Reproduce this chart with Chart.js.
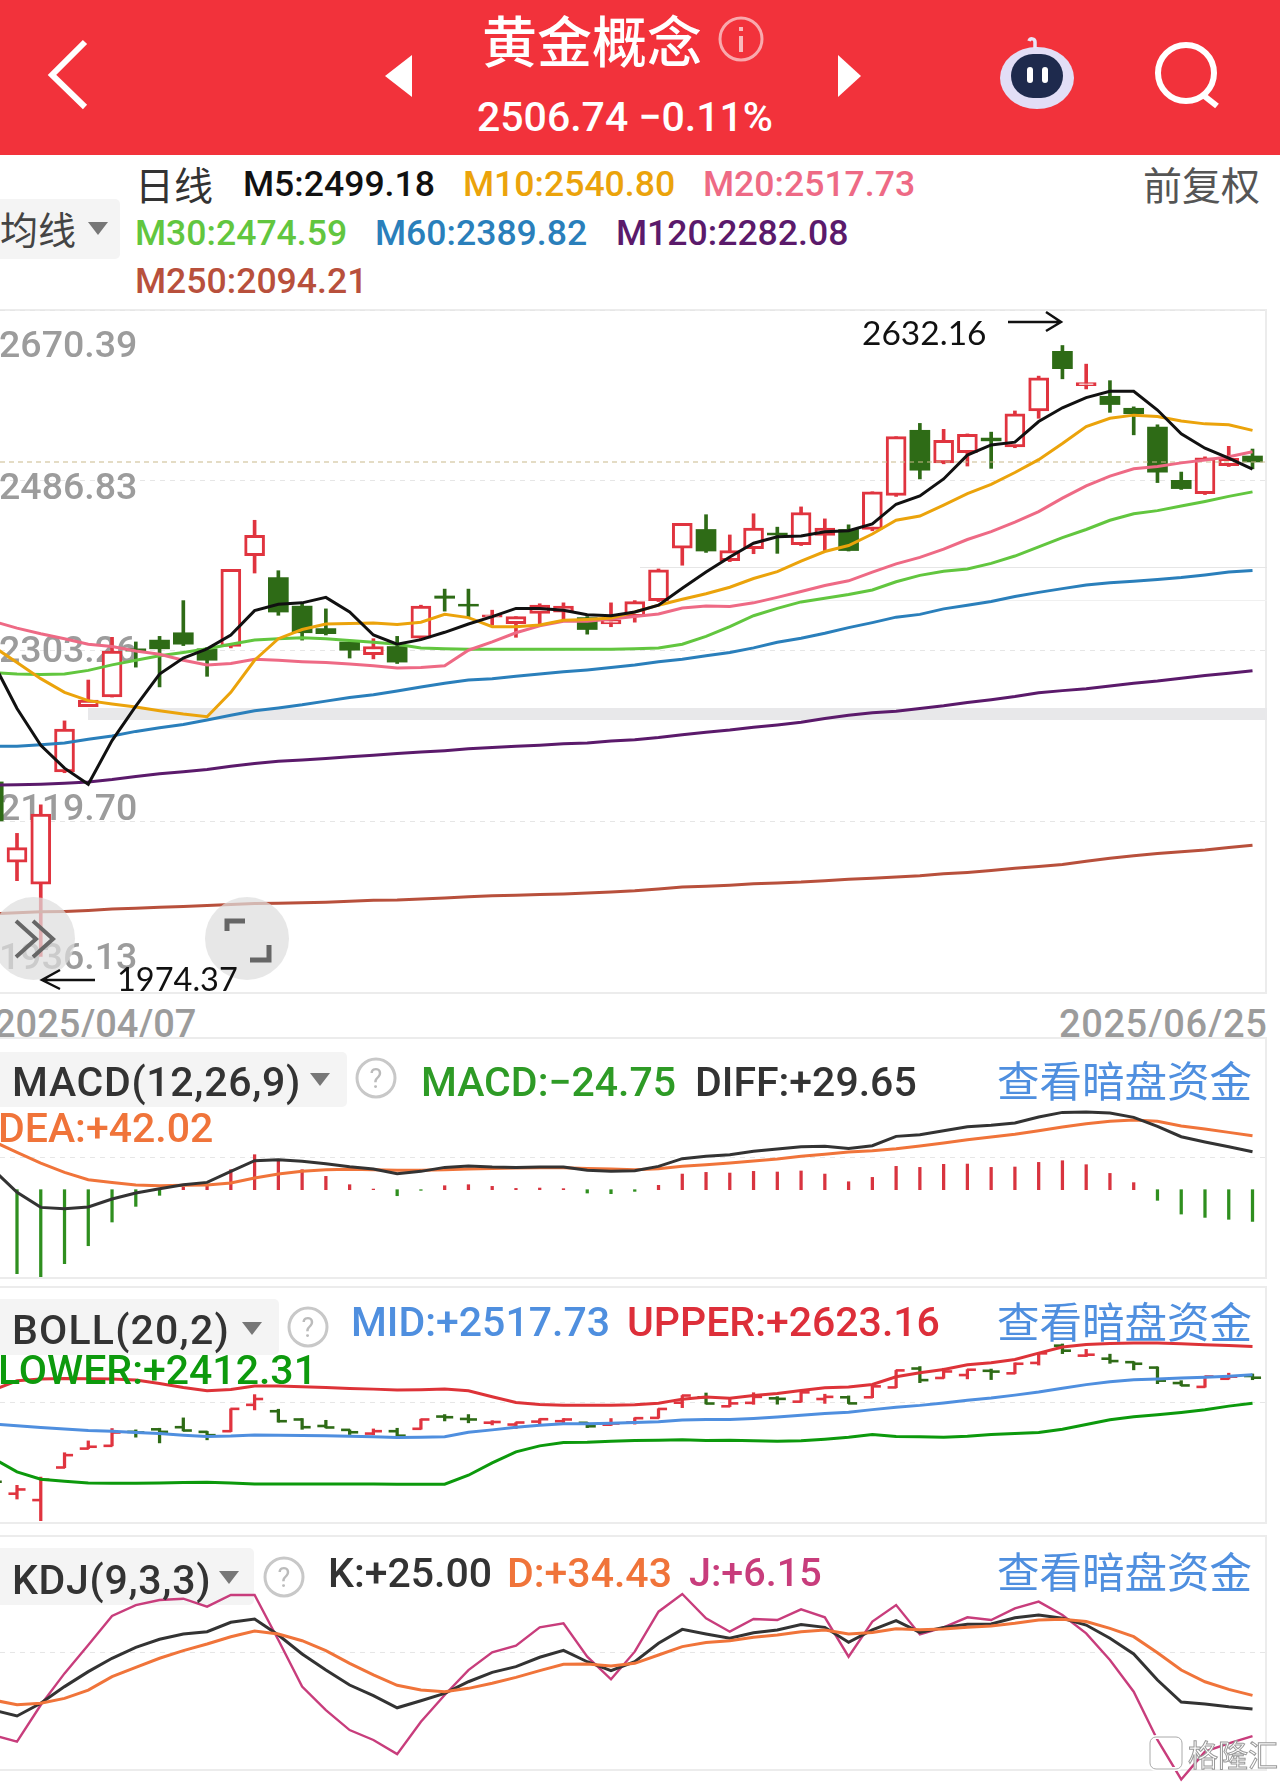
<!DOCTYPE html>
<html>
<head>
<meta charset="utf-8">
<script src="https://cdn.jsdelivr.net/npm/chart.js@4"></script>
<style>
html,body{margin:0;padding:0;background:#fff}
body{width:1280px;height:1782px;position:relative;overflow:hidden;font-family:Roboto,"Noto Sans CJK SC",sans-serif}
.t{position:absolute;white-space:nowrap;line-height:1;transform:translateY(-50%)}
.n{font-weight:500}
.h{font-weight:500;font-size:41px}
.cn{font-family:"Noto Sans CJK SC",sans-serif}
.box{position:absolute;left:0;background:#f4f4f4;border-radius:0 5px 5px 0}
.panel{position:absolute;left:-2px;width:1265px;border:2px solid #ececec;box-sizing:content-box}
canvas{position:absolute;left:0}
svg{position:absolute;overflow:visible}
</style>
</head>
<body>
<div style="position:absolute;left:0;top:0;width:1280px;height:155px;background:#f2323b"></div>
<svg style="left:0;top:0" width="1280" height="155">
  <polyline points="85,42 52,75 85,107" fill="none" stroke="#fff" stroke-width="6"/>
  <polygon points="412,55 385,76 412,97" fill="#fff"/>
  <polygon points="838,55 861,76 838,97" fill="#fff"/>
  <circle cx="741" cy="39" r="21" fill="none" stroke="#f9a9ad" stroke-width="3"/>
  <rect x="739" y="36" width="4" height="16" fill="#f9b9bc"/><rect x="739" y="27" width="4" height="4" fill="#f9b9bc"/>
  <ellipse cx="1037" cy="78" rx="37" ry="31" fill="#e2def6"/>
  <rect x="1011" y="54" width="52" height="44" rx="22" fill="#1e2a4d"/>
  <rect x="1027" y="67" width="6" height="16" rx="3" fill="#fff"/><rect x="1042" y="67" width="6" height="16" rx="3" fill="#fff"/>
  <path d="M1035,48 V42 C1035,38 1030,38 1029,41" fill="none" stroke="#e9e6f8" stroke-width="3.5"/>
  <circle cx="1186" cy="73" r="28" fill="none" stroke="#fff" stroke-width="6"/>
  <line x1="1203" y1="95" x2="1217" y2="106" stroke="#fff" stroke-width="6"/>
</svg>
<div class="t cn" style="left:482px;top:38px;font-size:55px;color:#fff;font-weight:500">黄金概念</div>
<div class="t n" style="left:477px;top:117px;font-size:41px;color:#fff">2506.74 −0.11%</div>

<div class="t cn" style="left:135px;top:183px;font-size:39px;color:#333">日线</div>
<div class="t n" style="left:243px;top:185px;font-size:35.6px;color:#111">M5:2499.18</div>
<div class="t n" style="left:463px;top:185px;font-size:35.6px;color:#eba30b">M10:2540.80</div>
<div class="t n" style="left:703px;top:185px;font-size:35.6px;color:#ee6a85">M20:2517.73</div>
<div class="t cn" style="left:1143px;top:183px;font-size:39px;color:#555">前复权</div>
<div class="box" style="top:199px;width:120px;height:60px"></div>
<div class="t cn" style="left:0;top:228px;font-size:38px;color:#444">均线</div>
<svg style="left:88px;top:222px" width="20" height="14"><polygon points="0,0 20,0 10,13" fill="#777"/></svg>
<div class="t n" style="left:135px;top:234px;font-size:35.6px;color:#62c63f">M30:2474.59</div>
<div class="t n" style="left:375px;top:234px;font-size:35.6px;color:#2a7fbb">M60:2389.82</div>
<div class="t n" style="left:616px;top:234px;font-size:35.6px;color:#5b1a6b">M120:2282.08</div>
<div class="t n" style="left:135px;top:282px;font-size:35.6px;color:#b8503c">M250:2094.21</div>

<!-- main panel -->
<div class="panel" style="top:309px;height:681px"></div>
<div style="position:absolute;left:88px;top:708px;width:1179px;height:12px;background:#e8e8ea"></div>
<div style="position:absolute;left:640px;top:567px;width:627px;height:1px;background:#e6e6e6"></div>
<div style="position:absolute;left:640px;top:600px;width:627px;height:1px;background:#f0f0f0"></div>
<canvas id="mainChart" width="1267" height="682" style="top:310px"></canvas>
<div class="t" style="left:862px;top:333px;font-size:33.5px;color:#111;font-family:Lato">2632.16</div>
<svg style="left:1008px;top:310px" width="60" height="24"><path d="M0,12 H52 M38,2 L53,12 L38,21" fill="none" stroke="#111" stroke-width="2.5"/></svg>
<div style="position:absolute;left:0;top:897px;width:1280px;height:94px;overflow:hidden">
  <div style="position:absolute;left:-8px;top:0;width:83px;height:83px;border-radius:50%;background:rgba(222,222,222,.72)"></div>
  <div style="position:absolute;left:205px;top:0;width:84px;height:83px;border-radius:50%;background:rgba(222,222,222,.72)"></div>
  <svg style="left:0;top:0" width="300" height="90">
    <path d="M16,24 L36,42 L16,60 M33,24 L53,42 L33,60" fill="none" stroke="#666" stroke-width="4"/>
    <path d="M227,34 V24 H245 M269,48 V63 H250" fill="none" stroke="#666" stroke-width="5"/>
    <path d="M95,83 H42 M60,73 L42,83 L60,92" fill="none" stroke="#111" stroke-width="2.5"/>
  </svg>
  <div class="t" style="left:117px;top:82px;font-size:32.5px;color:#111;font-family:Lato">1974.37</div>
</div>
<div class="t n" style="left:-6px;top:1024px;font-size:38px;color:#9c9c9c">2025/04/07</div>
<div class="t n" style="left:1059px;top:1024px;font-size:38px;letter-spacing:.6px;color:#9c9c9c">2025/06/25</div>

<!-- MACD panel -->
<div class="panel" style="top:1037px;height:238px"></div>
<canvas id="macdChart" width="1267" height="240" style="top:1037px"></canvas>
<div class="box" style="top:1052px;width:347px;height:55px"></div>
<div class="t h" style="left:12px;top:1082px;letter-spacing:.7px;color:#333">MACD(12,26,9)</div>
<svg style="left:310px;top:1073px" width="20" height="14"><polygon points="0,0 20,0 10,13" fill="#777"/></svg>
<svg style="left:355px;top:1057px" width="42" height="42"><circle cx="21" cy="21" r="19" fill="none" stroke="#c8c8c8" stroke-width="3"/><text x="21" y="31" font-size="27" text-anchor="middle" fill="#bbb" font-family="Roboto">?</text></svg>
<div class="t h" style="left:421px;top:1082px;color:#2e9b26">MACD:−24.75</div>
<div class="t h" style="left:695px;top:1082px;color:#333">DIFF:+29.65</div>
<div class="t cn" style="left:997px;top:1079px;font-size:42.5px;color:#4f8fdf">查看暗盘资金</div>
<div class="t h" style="left:-2px;top:1128px;color:#f0743a">DEA:+42.02</div>

<!-- BOLL panel -->
<div class="panel" style="top:1286px;height:234px"></div>
<canvas id="bollChart" width="1267" height="235" style="top:1286px"></canvas>
<div class="box" style="top:1299px;width:279px;height:56px"></div>
<div class="t h" style="left:12px;top:1330px;letter-spacing:1.2px;color:#333">BOLL(20,2)</div>
<svg style="left:242px;top:1322px" width="20" height="14"><polygon points="0,0 20,0 10,13" fill="#777"/></svg>
<svg style="left:287px;top:1306px" width="42" height="42"><circle cx="21" cy="21" r="19" fill="none" stroke="#c8c8c8" stroke-width="3"/><text x="21" y="31" font-size="27" text-anchor="middle" fill="#bbb" font-family="Roboto">?</text></svg>
<div class="t h" style="left:351px;top:1322px;color:#4f8fdf">MID:+2517.73</div>
<div class="t h" style="left:627px;top:1322px;color:#dd2f3a">UPPER:+2623.16</div>
<div class="t cn" style="left:997px;top:1320px;font-size:42.5px;color:#4f8fdf">查看暗盘资金</div>
<div class="t h" style="left:-2px;top:1370px;color:#0d9a0d">LOWER:+2412.31</div>

<!-- KDJ panel -->
<div class="panel" style="top:1535px;height:232px"></div>
<div class="box" style="top:1548px;width:254px;height:57px"></div>
<canvas id="kdjChart" width="1267" height="247" style="top:1535px"></canvas>
<div class="t h" style="left:12px;top:1580px;letter-spacing:.7px;color:#333">KDJ(9,3,3)</div>
<svg style="left:219px;top:1571px" width="20" height="14"><polygon points="0,0 20,0 10,13" fill="#777"/></svg>
<svg style="left:263px;top:1556px" width="42" height="42"><circle cx="21" cy="21" r="19" fill="none" stroke="#c8c8c8" stroke-width="3"/><text x="21" y="31" font-size="27" text-anchor="middle" fill="#bbb" font-family="Roboto">?</text></svg>
<div class="t h" style="left:328px;top:1573px;color:#333">K:+25.00</div>
<div class="t h" style="left:507px;top:1573px;color:#f0743a">D:+34.43</div>
<div class="t h" style="left:689px;top:1573px;font-size:39.5px;color:#c83d7c">J:+6.15</div>
<div class="t cn" style="left:997px;top:1570px;font-size:42.5px;color:#4f8fdf">查看暗盘资金</div>
<div class="t cn" style="left:1188px;top:1753px;font-size:30px;color:#fff;-webkit-text-stroke:1px #999">格隆汇</div>
<svg style="left:1148px;top:1735px" width="36" height="36"><rect x="2" y="2" width="32" height="32" rx="6" fill="none" stroke="#fff" stroke-width="4"/><rect x="2" y="2" width="32" height="32" rx="6" fill="none" stroke="#aaa" stroke-width="1"/></svg>

<script>
// candles, one per trading day
const open = [2162.3,2075.8,2052.1,2173.2,2243.4,2253.7,2305.6,2315,2322.9,2305.6,2308.1,2406,2382.3,2351.6,2327.4,2313,2299.2,2308.1,2317,2362.5,2353.6,2339.7,2332.8,2343.7,2345.2,2339.2,2332.3,2340.3,2357.5,2413.9,2434.1,2400.5,2413.4,2430.2,2417.8,2427.7,2434.1,2434.1,2470.7,2540.9,2505.8,2516.7,2532.5,2523.1,2561.7,2625.9,2588.9,2577.5,2564.6,2544.4,2487,2472.7,2502.9,2513.2];
const close = [2120.3,2091.6,2127.7,2219.1,2250.3,2303.2,2303.2,2305.6,2310.6,2293.3,2391.1,2427.7,2345.2,2322.9,2321.9,2304.1,2308.1,2291.3,2351.6,2360,2351.6,2342.2,2340.3,2352.6,2351.6,2326.4,2336.8,2356.5,2390.7,2440.6,2410.9,2411.4,2435.6,2428.2,2452.4,2435.6,2411.4,2474.7,2534,2497.9,2530,2536.5,2529.5,2558.7,2597.3,2607.2,2592.3,2568.6,2558.7,2495.9,2478.1,2511.3,2510.8,2506.74];
const high = [2167.3,2106.9,2137.6,2228,2272,2318,2313,2319,2357.5,2307.1,2391.1,2444,2389.7,2355.1,2348.6,2313,2316.5,2319,2352.6,2369.9,2369.9,2347.2,2340.3,2354.1,2355.1,2340.3,2355.1,2357.5,2391.6,2440.6,2450,2428.2,2451,2436.6,2458.4,2445.5,2439.1,2474.7,2534,2548.3,2541.9,2537,2538.9,2561.7,2599.2,2632.16,2612.1,2594.3,2566.1,2546.8,2495.9,2512.3,2523.6,2520.7];
const low = [2107.9,2056,1974.37,2172.2,2243.4,2253.7,2285.9,2264.6,2309.1,2276,2306.6,2387.2,2341.7,2315,2320.5,2295.7,2294.8,2289.8,2315.5,2346.2,2339.2,2331.3,2318,2331.8,2336.8,2321.4,2329.4,2334.3,2356.5,2395.6,2409.4,2399.5,2408,2408.4,2416.8,2411.4,2410.9,2432.7,2469.7,2488.5,2504.8,2502.4,2499.9,2522.1,2553.8,2596.3,2585.4,2560.2,2536,2484.6,2477.2,2471.7,2501.9,2499.4];

const m5 = [2290.8,2241.4,2201.8,2177.1,2159.8,2206.8,2243.8,2278.4,2295.7,2305.6,2320.5,2346.7,2353.6,2355.1,2361,2345.2,2320.5,2310.6,2315.5,2323.4,2332.3,2340.3,2349.1,2349.1,2347.2,2342.2,2341.2,2345.2,2352.6,2370.9,2388.2,2404.5,2419.3,2426.2,2427.2,2431.7,2432.7,2440.1,2461.3,2470.2,2488.5,2514.2,2525.1,2528.1,2550.3,2565.1,2576,2582.9,2582.9,2562.7,2537,2521.6,2510.8,2499.18];
const m10 = [2308.1,2290.8,2273.5,2258.7,2249.8,2246.3,2242.9,2238.9,2235.4,2232.5,2258.7,2293.3,2316.5,2326.4,2332.3,2332.8,2333.3,2331.8,2334.3,2342.7,2339.2,2329.4,2329.4,2331.3,2336.3,2337.3,2338.7,2345.2,2352.6,2359,2364.9,2371.9,2381.3,2388.7,2400,2410.4,2416.8,2429.2,2444,2448.5,2460.3,2472.7,2482.6,2495.4,2509.3,2526.6,2544.9,2553.8,2557.2,2555.7,2550.8,2547.8,2546.8,2540.80];
const m20 = [2335.3,2327.9,2321.9,2316.5,2310.6,2308.1,2303.2,2299.7,2293.3,2288.3,2289.8,2294.3,2293.3,2291.8,2290.8,2289.3,2287.3,2284.9,2285.4,2287.3,2304.1,2313,2322.9,2330.3,2335.3,2335.3,2337.8,2340.3,2343.2,2349.6,2351.6,2351.1,2355.1,2361,2367.4,2373.8,2378.8,2388.2,2397.1,2404,2412.9,2423.3,2431.7,2442.1,2453.4,2467.8,2481.1,2491.5,2499.4,2501.9,2505.8,2508.8,2512.3,2517.73];
const m30 = [2279.9,2278.4,2278,2278.4,2282.4,2288.3,2293.3,2298.2,2301.7,2305.6,2310.6,2315,2316.5,2317.5,2316.5,2314.5,2312.6,2310.6,2306.6,2305.6,2305.1,2305.1,2305.1,2305.1,2305.1,2305.1,2305.1,2305.6,2306.6,2310.6,2319,2329.4,2341.2,2349.1,2356.1,2360,2364,2368.9,2377.8,2384.7,2389.2,2391.6,2397.6,2405.5,2415.4,2425.3,2434.1,2444,2451,2454.4,2459.4,2464.3,2469.7,2474.59];
const m60 = [2200.8,2200.8,2202.3,2204.3,2208.3,2211.7,2216.7,2220.6,2224.1,2229,2234,2238.9,2241.9,2245.3,2249.3,2253.2,2256.2,2260.2,2264.6,2268.6,2272,2273.5,2276,2278.4,2280.9,2282.9,2285.4,2288.3,2291.8,2294.3,2298.2,2301.7,2306.6,2312.6,2317,2322.4,2328.4,2333.8,2339.7,2342.7,2348.6,2352.6,2356.5,2362,2366.4,2370.4,2374.3,2376.8,2378.3,2380.3,2382.3,2385.2,2388.2,2389.82];
const m120 = [2158.8,2159.3,2159.8,2160.8,2162.3,2164.8,2168.2,2171.2,2173.2,2175.6,2179.1,2182.1,2184.5,2186,2187.5,2189.5,2191,2192.9,2194.4,2195.9,2197.9,2199.4,2200.8,2201.8,2203.3,2204.3,2206.3,2207.8,2210.2,2213.2,2215.7,2218.1,2221.1,2223.6,2226.5,2230.5,2234,2236.9,2238.4,2241.4,2244.3,2247.8,2250.8,2254.2,2258.2,2260.6,2262.6,2265.6,2268.6,2271,2274,2277,2279.4,2282.08];
const m250 = [2020.4,2021.4,2022.4,2022.9,2023.9,2025.4,2026.3,2027.3,2028.3,2029.3,2030.3,2031.3,2031.8,2032.3,2032.8,2033.8,2034.8,2035.2,2036.2,2037.2,2038.7,2039.7,2040.2,2041.2,2041.7,2042.7,2043.7,2045.1,2047.1,2049.1,2050.1,2051.1,2052.6,2053.6,2054.5,2056,2057.5,2058.5,2060,2061.4,2063.4,2064.9,2066.9,2069.4,2071.3,2073.3,2076.8,2080.2,2082.7,2085.2,2087.2,2089.1,2091.6,2094.21];

const macd = [-50,-65.5,-68.1,-57.7,-43.7,-25.2,-13,-4.4,2.1,3.1,15.6,27.3,23.4,15.6,10.4,3.9,0.5,-4.7,-0.5,3.1,3.9,2.6,1,1.3,0.8,-2.6,-3.1,-1.3,3.4,12.2,13.5,13,14.3,13.8,14.6,12.2,6.2,9.6,18.2,17.4,19.8,20,17.4,17.7,21.3,22.6,19.5,12.7,5.5,-8.3,-19,-21.6,-23.1,-24.75];
const diff = [15.6,-2.1,-13.8,-14.8,-13.5,-7.3,-2.6,0.8,3.9,5.7,14.3,22.6,23.4,22.1,20.3,17.9,16.1,12.5,14.3,17.4,18.5,17.7,17.4,17.7,17.7,15.1,14.3,14.8,18.2,24.2,26,27.3,29.9,31.7,33.5,33.8,32.2,34.3,41.6,42.9,46,49.1,50.2,52,56.7,60.3,60.6,59.8,56.4,49.4,41.3,37.2,33.5,29.65];
const dea = [37.7,29.1,20.8,13.5,7.8,5.7,3.6,3.1,3.4,3.6,5.2,9.1,12.2,14.3,15.6,15.9,15.6,15.1,15.1,15.6,16.1,16.6,16.9,17.2,17.2,16.6,16.1,15.6,16.4,18.2,19.5,20.8,22.4,23.9,26,27.6,29.4,30.4,32,34.1,36.4,39,41.1,43.2,46,48.9,51.5,53.3,54.3,53.3,49.7,47.3,44.7,42.02];

const upper = [2460.7,2495.4,2501.6,2504.1,2502.9,2501.6,2497.9,2485.5,2470.6,2458.2,2463.2,2475.6,2475.6,2473.1,2470.6,2466.9,2464.4,2460.7,2461.9,2464.4,2458.2,2435.9,2414.8,2407.4,2404.9,2404.9,2404.9,2406.1,2412.3,2427.2,2434.7,2430.9,2440.9,2448.3,2459.5,2469.4,2471.9,2481.8,2510.3,2525.2,2537.6,2554.9,2562.4,2574.8,2598.3,2620.7,2630.6,2634.3,2635.5,2635.5,2633.1,2629.3,2626.9,2623.16];
const lower = [2206.5,2156.9,2129.6,2122.2,2116,2114.7,2114.7,2116,2117.2,2118.5,2116,2112.3,2112.3,2112.3,2112.3,2112.3,2112.3,2111,2111,2111,2144.5,2190.4,2231.3,2253.6,2266,2267.3,2271,2273.5,2274.7,2275.9,2273.5,2274.7,2272.2,2271,2272.2,2278.4,2285.9,2295.8,2288.3,2287.1,2285.9,2289.6,2295.8,2299.5,2303.2,2315.6,2333,2350.3,2361.5,2368.9,2377.6,2387.5,2401.2,2412.31];

const kLine = [24.2,20.1,28.9,40.5,50.9,60.2,67.8,73.4,77.1,78.7,85.2,87.5,76.4,63.2,52,41.6,34.2,25.8,30.7,35.8,43.9,50.4,54.4,60.9,65.7,57.8,51.6,57.8,70.6,80.3,77.1,74.1,78,79.9,83.6,81.7,71.3,79.9,86.4,78.2,81.7,83.8,84,88.4,90.3,88,83.3,74.1,63.2,45.1,29.8,28.4,26.5,25];
const dLine = [31.2,27.9,28.9,32.3,38.1,47.4,53.9,60.2,65.5,70.1,75.2,79.2,77.1,72.4,65.5,56.7,48.6,41.4,38.1,37,39.3,42.8,46.9,51.6,56,56.2,54.8,56.7,62.5,68.3,71.1,72.4,74.8,76.4,78.7,79.9,77.1,78.2,80.8,80.1,80.6,81.7,82.6,84.5,86.8,87.3,85.7,81,75.2,64.1,52,43.9,38.6,34.43];
const jLine = [6.8,2.2,27.7,49.7,69.4,89.6,97.2,100.7,101.6,96.1,104.2,104.2,72.9,40.5,24.2,10.3,3.4,-6.4,16.1,34.7,52,64.3,69,81.7,84.5,61.3,45.6,64.8,92.6,104.9,88,78.7,87.5,86.8,94.2,88.7,61.3,85.7,97.2,76.8,81.7,88.7,86.8,94.9,99.6,90.3,77.5,59,37,3.4,-24,-4.7,1,6.15];

// axis tick labels of the main panel
const mainTicks = [1936.13, 2119.70, 2303.26, 2486.83, 2670.39];
const mainLabelShift = [-32, -11, 1.5, 9.5, 38];

const lastPrice = 2506.74;
const xMin = 0.2845, xMax = 53.61;
const RED = '#e0343f', GREEN = '#2e6b16';

const pts = arr => arr.map((v, i) => ({x: i, y: v}));
const candleColor = i => close[i] >= open[i] ? RED : GREEN;
const colors = open.map((v, i) => candleColor(i));

function lineSet(data, color, order, width) {
  return {type: 'line', data: pts(data), borderColor: color, borderWidth: width || 3, pointRadius: 0, tension: 0, order: order};
}

function tickLabels(ticks, shifts) {
  return {
    id: 'tickLabels',
    beforeDatasetsDraw(chart) {
      const ctx = chart.ctx, s = chart.scales.y;
      ctx.save();
      ctx.font = '500 37.5px Roboto';
      ctx.fillStyle = '#9c9c9c';
      ctx.textBaseline = 'middle';
      ticks.forEach((v, i) => ctx.fillText(v.toFixed(2), -1, s.getPixelForValue(v) + shifts[i]));
      ctx.restore();
    }
  };
}

function panel(id, yMin, yMax, gridVals, datasets, plugins) {
  return new Chart(document.getElementById(id), {
    type: 'bar',
    data: {datasets: datasets},
    plugins: plugins || [],
    options: {
      responsive: false,
      animation: false,
      layout: {padding: 0, autoPadding: false},
      plugins: {legend: {display: false}, tooltip: {enabled: false}},
      scales: {
        x: {type: 'linear', display: false, offset: false, min: xMin, max: xMax},
        y: {
          min: yMin,
          max: yMax,
          border: {display: false, dash: [5, 5]},
          afterBuildTicks(axis) { axis.ticks = gridVals.map(v => ({value: v})); },
          ticks: {display: false},
          grid: {color: '#e6e6e6', drawTicks: false, tickLength: 0, lineWidth: 1}
        }
      }
    }
  });
}

const wicks = {
  data: high.map((h, i) => ({x: i, y: [low[i], h]})),
  backgroundColor: colors, barThickness: 3, grouped: false, order: 9
};

panel('mainChart', 1936.13, 2670.39, mainTicks, [
  lineSet(m5, '#111111', 0),
  lineSet(m10, '#eba30b', 1),
  lineSet(m20, '#ee6a85', 2),
  lineSet(m30, '#62c63f', 3),
  lineSet(m60, '#2a7fbb', 4),
  lineSet(m120, '#5b1a6b', 5),
  lineSet(m250, '#b8503c', 6),
  {type: 'line', data: [{x: xMin, y: lastPrice}, {x: xMax, y: lastPrice}], borderColor: '#c9b98c', borderWidth: 1.2, borderDash: [5, 4], pointRadius: 0, order: 7},
  {
    data: open.map((o, i) => ({x: i, y: [o, close[i]]})),
    backgroundColor: open.map((o, i) => close[i] >= o ? '#ffffff' : GREEN),
    borderColor: colors, borderWidth: open.map((o, i) => close[i] >= o ? 3 : 0),
    borderSkipped: false, barThickness: 20, grouped: false, order: 8
  },
  wicks
], [tickLabels(mainTicks, mainLabelShift)]);

panel('macdChart', -68.1, 119.1, [25.5], [
  lineSet(diff, '#333333', 0),
  lineSet(dea, '#f0743a', 1),
  {data: pts(macd), backgroundColor: macd.map(v => v >= 0 ? '#d8343f' : '#2f8f1f'), barThickness: 2.6, grouped: false, order: 2}
]);

const tickStyle = {type: 'line', showLine: false, pointStyle: 'line', pointRadius: 4.5, pointBorderWidth: 2.6, pointBorderColor: colors, pointBackgroundColor: colors, order: 3};
panel('bollChart', 1974.37, 2847.6, [2413.6], [
  lineSet(upper, '#dd3338', 0, 3),
  lineSet(m20, '#4f8fdf', 1, 3),
  lineSet(lower, '#0c990c', 2, 3),
  Object.assign({data: open.map((v, i) => ({x: i - 0.17, y: v}))}, tickStyle),
  Object.assign({data: close.map((v, i) => ({x: i + 0.17, y: v}))}, tickStyle),
  Object.assign({}, wicks, {barThickness: 2.6, order: 4})
]);

panel('kdjChart', -25.8, 145.9, [64.3], [
  lineSet(kLine, '#333333', 1, 3),
  lineSet(dLine, '#f0743a', 0, 3),
  lineSet(jLine, '#c83d7c', 2, 2.4)
]);
</script>
</body>
</html>
